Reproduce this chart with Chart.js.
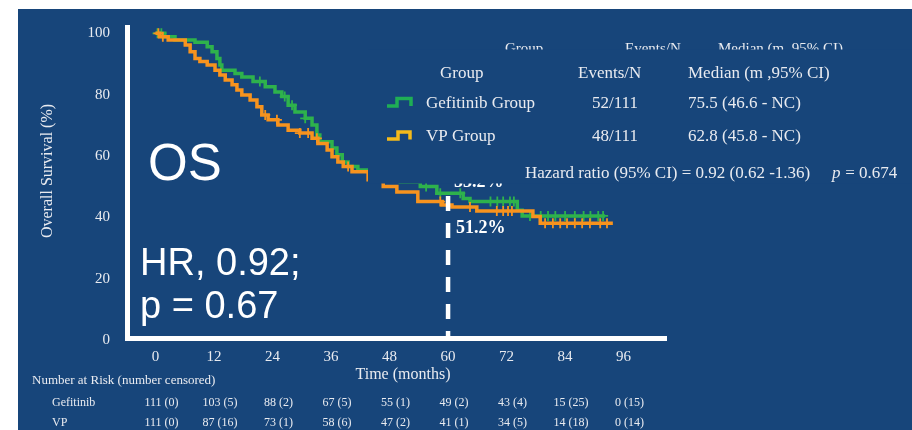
<!DOCTYPE html>
<html>
<head>
<meta charset="utf-8">
<script src="https://cdn.jsdelivr.net/npm/chart.js@4.4.0/dist/chart.umd.min.js"></script>
<style>
  html, body { margin: 0; padding: 0; background: #ffffff; }
  #wrap { width: 912px; height: 430px; }
</style>
</head>
<body>
<div id="wrap"><canvas id="km" width="912" height="430"></canvas></div>
<script>
// Kaplan-Meier overall survival, Gefitinib vs VP (months, % surviving)
const timeTicks = [0, 12, 24, 36, 48, 60, 72, 84, 96];
const survTicks = [0, 20, 40, 60, 80, 100];

const gefitinibTime = [0, 1.9, 4.0, 8.1, 10.6, 11.6, 12.6, 13.2, 13.6, 16.3, 17.7, 20.0, 22.5, 24.5, 25.9, 27.2, 28.6, 30.7, 32.1, 33.1, 33.7, 36.2, 37.2, 38.3, 39.5, 41.5, 45.0, 50.2, 54.3, 57.7, 63.1, 64.5, 74.2, 75.2, 92.2];
const gefitinibSurv = [100, 98.9, 97.8, 97.1, 95.6, 94.0, 91.8, 89.7, 88.0, 86.9, 85.8, 84.3, 82.6, 80.9, 79.4, 76.6, 74.4, 72.3, 70.1, 66.9, 64.7, 62.6, 60.4, 58.1, 56.6, 55.5, 53.3, 51.6, 50.1, 47.9, 46.2, 45.2, 42.4, 40.5, 40.5];
const gefitinibCensor = [0.4, 1.2, 21.4, 26.5, 28.0, 30.7, 55.5, 58.4, 62.5, 68.7, 70.1, 71.3, 72.7, 73.5, 76.8, 79.0, 80.5, 82.0, 84.0, 86.0, 87.8, 89.2, 90.8, 91.8];

const vpTime = [0, 0.9, 2.6, 6.1, 7.1, 8.1, 9.1, 10.6, 12.2, 13.2, 14.3, 15.7, 16.7, 17.7, 19.4, 20.8, 21.8, 23.1, 25.1, 27.2, 29.6, 32.1, 33.3, 35.2, 36.2, 37.4, 38.5, 40.3, 43.6, 46.7, 49.5, 53.8, 58.8, 60.8, 65.9, 77.4, 78.9, 93.8];
const vpSurv = [100, 98.9, 97.8, 96.2, 94.0, 91.8, 90.8, 89.7, 88.0, 86.4, 84.8, 83.2, 81.5, 79.9, 78.3, 76.1, 73.4, 71.8, 70.1, 68.4, 67.5, 65.8, 64.1, 62.0, 59.8, 58.1, 56.6, 54.9, 52.3, 50.1, 48.3, 45.2, 44.1, 43.4, 42.1, 40.3, 38.1, 38.1];
const vpCensor = [0.6, 1.5, 22.5, 24.9, 29.6, 31.3, 33.1, 39.5, 58.4, 60.0, 64.5, 70.0, 71.3, 72.3, 73.1, 79.9, 81.5, 83.0, 84.4, 86.0, 87.5, 89.1, 91.2, 92.6];

// Number at risk (number censored) at each time tick
const riskGefitinib = ['111 (0)', '103 (5)', '88 (2)', '67 (5)', '55 (1)', '49 (2)', '43 (4)', '15 (25)', '0 (15)'];
const riskVP = ['111 (0)', '87 (16)', '73 (1)', '58 (6)', '47 (2)', '41 (1)', '34 (5)', '14 (18)', '0 (14)'];

const landmarkMonth = 60;
const landmarkLabel = '51.2%';

const BLUE = '#17457A';
const GREEN = '#2EB24C';
const ORANGE = '#F7931E';
const SERIF = '"Liberation Serif", "DejaVu Serif", serif';
const SANS = '"Liberation Sans", Arial, sans-serif';
const TEXT = '#E9EBF0';

function toPoints(times, surv) {
  return times.map((t, i) => ({ x: t, y: surv[i] }));
}
function survAt(times, surv, t) {
  let v = surv[0];
  for (let i = 0; i < times.length; i++) { if (times[i] <= t) v = surv[i]; }
  return v;
}
function censorPoints(cens, times, surv) {
  return cens.map(t => ({ x: t, y: survAt(times, surv, t) }));
}

const slidePlugin = {
  id: 'slide',
  beforeDraw(chart) {
    const c = chart.ctx;
    c.save();
    c.fillStyle = '#ffffff';
    c.fillRect(0, 0, chart.width, chart.height);
    c.fillStyle = BLUE;
    c.fillRect(18, 9, chart.width - 18, chart.height - 9);
    c.restore();
  },
  afterDatasetsDraw(chart) {
    const c = chart.ctx;
    const xs = chart.scales.x;
    const area = chart.chartArea;
    c.save();

    // 5-year landmark line
    const lx = xs.getPixelForValue(landmarkMonth);
    c.strokeStyle = '#ffffff';
    c.lineWidth = 4.5;
    c.setLineDash([15, 12]);
    c.beginPath();
    c.moveTo(lx, 196);
    c.lineTo(lx, area.bottom);
    c.stroke();
    c.setLineDash([]);

    c.fillStyle = '#ffffff';
    c.font = 'bold 18px ' + SERIF;
    c.textBaseline = 'alphabetic';
    c.fillText('53.2%', lx + 6, 186.5);

    // header row sitting partly behind the summary panel
    c.fillStyle = TEXT;
    c.font = '15px ' + SERIF;
    c.fillText('Group', 505, 53);
    c.fillText('Events/N', 625, 53);
    c.fillText('Median (m ,95% CI)', 718, 53);

    // summary panel
    c.fillStyle = BLUE;
    c.fillRect(368, 49.5, chart.width - 368, 134);

    c.fillStyle = TEXT;
    c.font = '17px ' + SERIF;
    c.fillText('Group', 440, 78);
    c.fillText('Events/N', 578, 78);
    c.fillText('Median (m ,95% CI)', 688, 78);

    c.fillText('Gefitinib Group', 426, 108);
    c.fillText('52/111', 592, 108);
    c.fillText('75.5 (46.6 - NC)', 688, 108);

    c.fillText('VP Group', 426, 141);
    c.fillText('48/111', 592, 141);
    c.fillText('62.8 (45.8 - NC)', 688, 141);

    c.fillText('Hazard ratio (95% CI) = 0.92 (0.62 -1.36)', 525, 178);
    c.font = 'italic 17px ' + SERIF;
    c.fillText('p', 832, 178);
    c.font = '17px ' + SERIF;
    c.fillText(' = 0.674', 841, 178);

    // legend keys
    c.lineWidth = 3.5;
    c.lineJoin = 'miter';
    c.strokeStyle = '#1FAE55';
    c.beginPath();
    c.moveTo(387, 106); c.lineTo(397, 106); c.lineTo(397, 98.5); c.lineTo(411, 98.5); c.lineTo(411, 106);
    c.stroke();
    c.strokeStyle = '#F5BA1A';
    c.beginPath();
    c.moveTo(387, 139); c.lineTo(398, 139); c.lineTo(398, 132); c.lineTo(410, 132); c.lineTo(410, 139.5);
    c.stroke();

    // landmark value
    c.fillStyle = '#ffffff';
    c.font = 'bold 18px ' + SERIF;
    c.fillText(landmarkLabel, lx + 8, 233);
    c.restore();
  },
  afterDraw(chart) {
    const c = chart.ctx;
    const xs = chart.scales.x;
    c.save();
    c.textBaseline = 'alphabetic';

    // axis titles
    c.fillStyle = TEXT;
    c.font = '16px ' + SERIF;
    c.textAlign = 'center';
    c.fillText('Time (months)', 403, 379);
    c.save();
    c.translate(52, 171);
    c.rotate(-Math.PI / 2);
    c.fillText('Overall Survival (%)', 0, 0);
    c.restore();

    // number at risk table
    c.textAlign = 'left';
    c.font = '13px ' + SERIF;
    c.fillText('Number at Risk (number censored)', 32, 384);
    c.font = '12px ' + SERIF;
    c.fillText('Gefitinib', 52, 406);
    c.fillText('VP', 52, 426);
    c.textAlign = 'center';
    timeTicks.forEach((t, i) => {
      const px = xs.getPixelForValue(t) + 6;
      c.fillText(riskGefitinib[i], px, 406);
      c.fillText(riskVP[i], px, 426);
    });

    // slide annotations
    c.textAlign = 'left';
    c.fillStyle = '#ffffff';
    c.font = '51px ' + SANS;
    c.fillText('OS', 148, 180);
    c.font = '38px ' + SANS;
    c.fillText('HR, 0.92;', 140, 275);
    c.fillText('p = 0.67', 140, 318);
    c.restore();
  }
};

new Chart(document.getElementById('km'), {
  type: 'line',
  data: {
    datasets: [
      {
        label: 'VP Group',
        data: toPoints(vpTime, vpSurv),
        stepped: 'before',
        borderColor: ORANGE,
        borderWidth: 3.5,
        pointRadius: 0,
        fill: false,
        order: 2
      },
      {
        label: 'VP censored',
        type: 'scatter',
        data: censorPoints(vpCensor, vpTime, vpSurv),
        pointStyle: 'cross',
        pointRadius: 5,
        borderWidth: 1.8,
        borderColor: ORANGE,
        backgroundColor: ORANGE,
        order: 1
      },
      {
        label: 'Gefitinib Group',
        data: toPoints(gefitinibTime, gefitinibSurv),
        stepped: 'before',
        borderColor: GREEN,
        borderWidth: 3.5,
        pointRadius: 0,
        fill: false,
        order: 4
      },
      {
        label: 'Gefitinib censored',
        type: 'scatter',
        data: censorPoints(gefitinibCensor, gefitinibTime, gefitinibSurv),
        pointStyle: 'cross',
        pointRadius: 5,
        borderWidth: 1.8,
        borderColor: GREEN,
        backgroundColor: GREEN,
        order: 3
      }
    ]
  },
  options: {
    responsive: false,
    animation: false,
    devicePixelRatio: 1,
    layout: { padding: { top: 27, right: 246, left: 0, bottom: 0 } },
    plugins: { legend: { display: false }, tooltip: { enabled: false } },
    scales: {
      x: {
        type: 'linear',
        min: -5.85,
        max: 104.7,
        grid: { display: false, drawTicks: false },
        border: { display: true, color: '#ffffff', width: 5 },
        ticks: {
          color: TEXT,
          font: { family: SERIF, size: 15 },
          padding: 10,
          autoSkip: false,
          maxRotation: 0
        },
        afterBuildTicks: s => { s.ticks = timeTicks.map(v => ({ value: v })); },
        afterFit: s => { s.height = 92; }
      },
      y: {
        type: 'linear',
        min: 0.75,
        max: 102.05,
        grid: { display: false, drawTicks: false },
        border: { display: true, color: '#ffffff', width: 5 },
        ticks: {
          color: TEXT,
          font: { family: SERIF, size: 15 },
          padding: 17
        },
        afterBuildTicks: s => { s.ticks = survTicks.map(v => ({ value: v })); },
        afterFit: s => { s.width = 127; }
      }
    }
  },
  plugins: [slidePlugin]
});
</script>
</body>
</html>
